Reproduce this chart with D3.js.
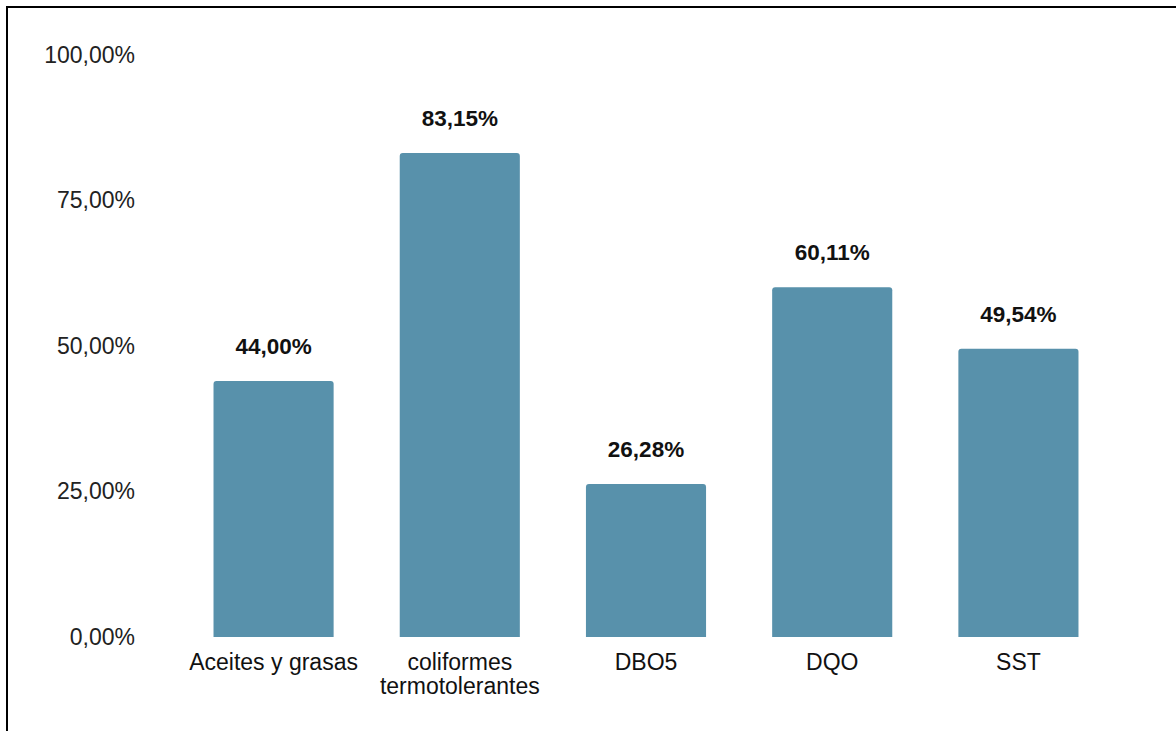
<!DOCTYPE html>
<html>
<head>
<meta charset="utf-8">
<script src="https://cdn.jsdelivr.net/npm/d3@7"></script>
<style>
  body { margin: 0; background: #fff; }
  svg { display: block; font-family: "Liberation Sans", Arial, sans-serif; }
</style>
</head>
<body>
<svg width="1176" height="731"></svg>
<script>
// data
const categories = ['Aceites y grasas', 'coliformes termotolerantes', 'DBO5', 'DQO', 'SST'];
const values = [44.00, 83.15, 26.28, 60.11, 49.54];
const yTicks = [0, 25, 50, 75, 100];

const svg = d3.select('svg');

// frame round the chart, right and bottom run off the page
svg.append('rect')
  .attr('x', 7).attr('y', 7)
  .attr('width', 1200).attr('height', 800)
  .attr('fill', 'none').attr('stroke', '#000').attr('stroke-width', 2);

let x = d3.scaleBand().domain(categories).range([180, 1112]).paddingInner(0.355).paddingOuter(0.18);
let y = d3.scaleLinear().domain([0, 100]).range([637, 55]);

let fmt = v => d3.format('.2f')(v).replace('.', ',') + '%';

// y axis labels only, no line
let yAxis = svg.append('g')
  .attr('transform', 'translate(135,0)')
  .call(d3.axisLeft(y).tickValues(yTicks).tickSize(0).tickPadding(0).tickFormat(fmt));
yAxis.select('.domain').remove();
yAxis.selectAll('text')
  .attr('font-size', 23).attr('fill', '#222').attr('font-family', '"Liberation Sans", Arial, sans-serif');

// bars with slightly rounded tops
function barPath(d) {
  let x0 = x(d.cat), w = x.bandwidth(), top = y(d.val), bot = y(0), r = 3;
  return `M${x0},${bot}V${top + r}Q${x0},${top} ${x0 + r},${top}H${x0 + w - r}Q${x0 + w},${top} ${x0 + w},${top + r}V${bot}Z`;
}

let rows = categories.map((c, i) => ({ cat: c, val: values[i] }));

svg.append('g').selectAll('path')
  .data(rows).join('path')
  .attr('d', barPath)
  .attr('fill', '#5891ab');

svg.append('g').selectAll('text')
  .data(rows).join('text')
  .attr('x', d => x(d.cat) + x.bandwidth() / 2)
  .attr('y', d => y(d.val) - 27)
  .attr('text-anchor', 'middle')
  .attr('font-size', 22.5).attr('font-weight', 'bold').attr('fill', '#111')
  .text(d => fmt(d.val));

// category labels, wrapped on two lines where needed
let xAxis = svg.append('g')
  .attr('transform', `translate(0,${y(0)})`)
  .call(d3.axisBottom(x).tickSize(0).tickPadding(0));
xAxis.select('.domain').remove();
xAxis.selectAll('text').each(function (d) {
  let t = d3.select(this).text(null)
    .attr('font-size', 23).attr('fill', '#111')
    .attr('font-family', '"Liberation Sans", Arial, sans-serif')
    .attr('dy', null);
  let lines = d === 'coliformes termotolerantes' ? ['coliformes', 'termotolerantes'] : [d];
  lines.forEach((l, i) => {
    t.append('tspan').attr('x', 0).attr('y', 33 + i * 24).text(l);
  });
});
</script>
</body>
</html>
